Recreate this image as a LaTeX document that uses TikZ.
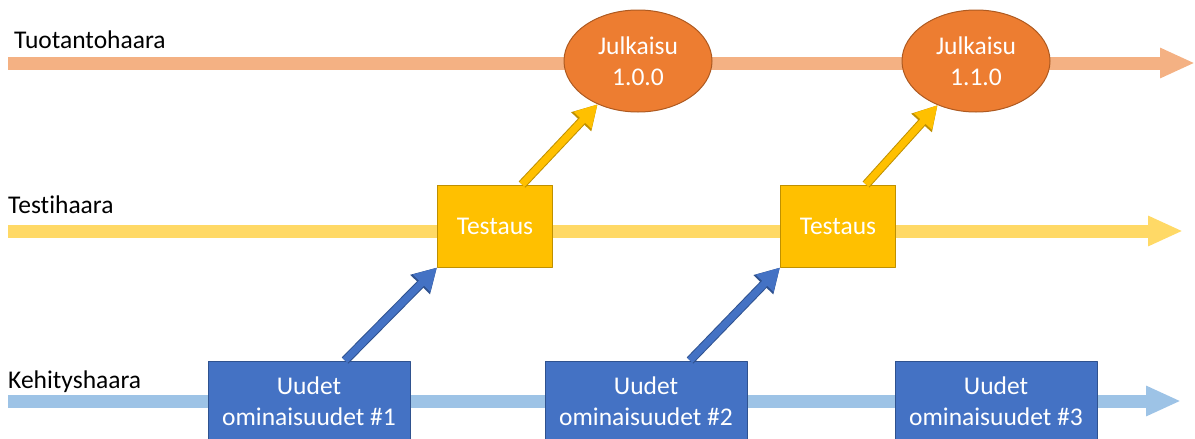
\documentclass[tikz,border=0pt]{standalone}
\usepackage{fontspec}
\setmainfont{Carlito}[Ligatures={NoCommon,NoContextual},Contextuals=NoAlternate]
\usetikzlibrary{shapes.geometric,arrows.meta}
\definecolor{prodband}{HTML}{F4B183}
\definecolor{testband}{HTML}{FFD966}
\definecolor{devband}{HTML}{9DC3E6}
\definecolor{relfill}{HTML}{ED7D31}
\definecolor{relline}{HTML}{AE5A21}
\definecolor{goldfill}{HTML}{FFC000}
\definecolor{goldline}{HTML}{BF9000}
\definecolor{bluefill}{HTML}{4472C4}
\definecolor{blueline}{HTML}{2F528F}
\begin{document}
\begin{tikzpicture}[x=1pt,y=-1pt,line join=round,font=\fontsize{25.5}{31}\selectfont,
	band/.style={line width=13pt,-{Triangle[length=35pt,width=28pt]}},
	release/.style={ellipse,fill=relfill,draw=relline,line width=1pt,minimum width=148pt,minimum height=102pt,inner sep=0pt,text=white,align=center},
	testbox/.style={rectangle,fill=goldfill,draw=goldline,line width=1pt,minimum width=115pt,minimum height=82pt,inner sep=0pt,text=white},
	featbox/.style={rectangle,fill=bluefill,draw=blueline,line width=1pt,minimum width=202pt,minimum height=80pt,inner sep=0pt,text=white,align=center},
	lift/.style={draw=#1fill,line width=7pt,-{Triangle[length=22pt,width=23pt]},
		preaction={draw=#1line,line width=9pt,-{Triangle[length=24pt,width=26pt]}}},
	branch/.style={anchor=base west,inner sep=0pt}]
	\useasboundingbox (0,0) rectangle (1195,439);
	
	% haarat
	\coordinate (p0) at (8,63);  \coordinate (p1) at (1195,63);
	\coordinate (t0) at (8,231); \coordinate (t1) at (1183,231);
	\coordinate (d0) at (8,401); \coordinate (d1) at (1181,401);
	\draw[band,prodband] (p0)--(p1);
	\draw[band,testband] (t0)--(t1);
	\draw[band,devband] (d0)--(d1);
	\node[branch] (prodlabel) at (14,48) {Tuotantohaara};
	\node[branch] (testlabel) at (8,213) {Testihaara};
	\node[branch] (devlabel) at (8,388) {Kehityshaara};
	
	% solmut
	\node[release] (rel1) at (638,61) {Julkaisu\\1.0.0};
	\node[release] (rel2) at (976,61) {Julkaisu\\1.1.0};
	\node[testbox] (test1) at (495,226) {Testaus};
	\node[testbox] (test2) at (838,226) {Testaus};
	\node[featbox] (feat1) at (309,401) {Uudet\\ominaisuudet \#1};
	\node[featbox] (feat2) at (646,401) {Uudet\\ominaisuudet \#2};
	\node[featbox] (feat3) at (996,401) {Uudet\\ominaisuudet \#3};
	
	\draw[lift=blue] ([xshift=36pt]feat1.north)--(test1.south west);
	\draw[lift=blue] ([xshift=44pt]feat2.north)--(test2.south west);
	\draw[lift=gold] ([xshift=27pt]test1.north)--(rel1.227);
	\draw[lift=gold] ([xshift=28pt]test2.north)--(rel2.229);
\end{tikzpicture}
\end{document}
